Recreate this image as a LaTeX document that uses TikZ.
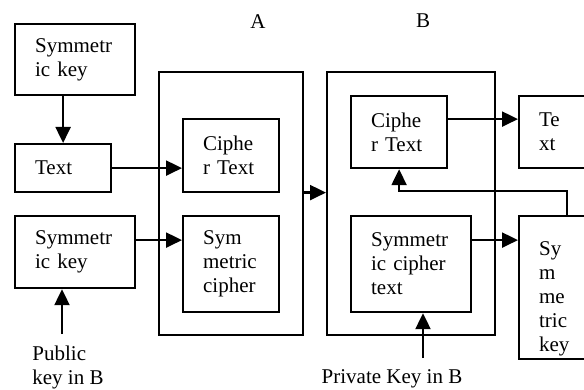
\documentclass[tikz,border=0pt]{standalone}
\usepackage{fontspec}
\setmainfont{Liberation Serif}
\usetikzlibrary{arrows.meta, positioning}

\tikzset{
  box/.style={draw, line width=2.2pt, anchor=north west, align=left,
    inner xsep=20pt, inner ysep=0pt},
  frame/.style={draw, line width=2.2pt, anchor=north west, inner sep=0pt},
  link/.style={line width=2.2pt, -{Triangle[length=16pt,width=15pt]}},
  tag/.style={align=left, inner sep=0pt}
}

\begin{document}
\begin{tikzpicture}[x=1pt, y=-1pt, font=\fontsize{21}{24}\selectfont]
    \useasboundingbox (0,0) rectangle (584,390);

    % Side labels
    \node (labA) at (258,22) {A};
    \node (labB) at (423,21) {B};

    % Sender side inputs
    \node[box, text width=80pt, minimum height=71pt] (keyone) at (14,23) {Symmetr\\ic key};
    \node[box, text width=56pt, minimum height=48pt] (plainA) at (14,143) {Text};
    \node[box, text width=80pt, minimum height=72pt] (keytwo) at (14,215) {Symmetr\\ic key};

    % Frame A
    \node[frame, minimum width=144pt, minimum height=263pt] (frameA) at (158,71) {};
    \node[box, text width=56pt, minimum height=73pt] (cipherA) at (182,118) {Ciphe\\r Text};
    \node[box, text width=56pt, minimum height=96pt] (symcipherA) at (182,215) {Sym\\metric\\cipher};

    % Frame B
    \node[frame, minimum width=168pt, minimum height=263pt] (frameB) at (326,71) {};
    \node[box, text width=56pt, minimum height=72pt] (cipherB) at (350,95) {Ciphe\\r Text};
    \node[box, text width=80pt, minimum height=96pt] (symtextB) at (350,215) {Symmetr\\ic cipher\\text};

    % Receiver outputs
    \node[box, text width=32pt, minimum height=72pt] (plainB) at (518,95) {Te\\xt};
    \node[box, text width=32pt, minimum height=143pt, text depth=79pt] (keyB) at (518,215) {Sy\\m\\me\\tric\\key};

    % Key labels
    \node[tag] (pubkey) at (68,367) {Public\\key in B};
    \node[tag] (privkey) at (392,379) {Private Key in B};
    \coordinate (pubend) at (62,334);
    \coordinate (privend) at (423,358);
    \coordinate (bend) at (567,191);

    % Arrows
    \draw[link] (plainA.north |- keyone.south) -- (plainA.north);
    \draw[link] (plainA.east) -- (plainA.east -| cipherA.west);
    \draw[link] ([yshift=12pt]keytwo.east) -- ([yshift=12pt]keytwo.east -| symcipherA.west);
    \draw[link] (pubend) -- (pubend |- keytwo.south);
    \draw[link] ([yshift=11pt]frameA.east) -- ([yshift=11pt]frameA.east -| frameB.west);
    \draw[link] ([yshift=13pt]cipherB.east) -- ([yshift=13pt]cipherB.east -| plainB.west);
    \draw[link] ([yshift=24pt]symtextB.east) -- ([yshift=24pt]symtextB.east -| keyB.west);
    \draw[link] (privend) -- (privend |- symtextB.south);
    \draw[link] (bend |- keyB.north) -- (bend) -| (cipherB.south);
\end{tikzpicture}
\end{document}
